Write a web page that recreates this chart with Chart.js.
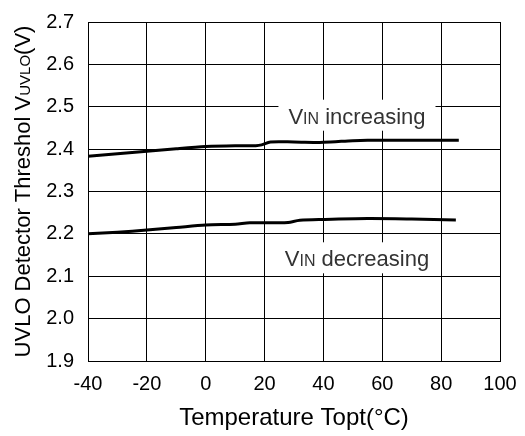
<!DOCTYPE html>
<html>
<head>
<meta charset="utf-8">
<script src="https://cdn.jsdelivr.net/npm/chart.js@4.4.1/dist/chart.umd.min.js"></script>
<style>
  html, body { margin: 0; padding: 0; background: #fff; }
  #wrap { width: 525px; height: 436px; }
</style>
</head>
<body>
<div id="wrap"><canvas id="uvlo-chart"></canvas></div>
<script>
// values
var incTemp = [-40, -30, -20, -10, 0, 10, 17, 19, 22, 30, 40, 50, 55, 70, 86];
var incVolt = [2.383, 2.389, 2.395, 2.401, 2.406, 2.408, 2.408, 2.410, 2.417, 2.417, 2.416, 2.420, 2.421, 2.421, 2.421];

var decTemp = [-40, -30, -20, -10, 0, 10, 15, 25, 28, 32, 40, 55, 70, 85];
var decVolt = [2.200, 2.204, 2.209, 2.215, 2.221, 2.223, 2.226, 2.226, 2.227, 2.232, 2.234, 2.236, 2.235, 2.233];

var xTicks = [-40, -20, 0, 20, 40, 60, 80, 100];
var yTicks = [1.9, 2.0, 2.1, 2.2, 2.3, 2.4, 2.5, 2.6, 2.7];

// curve labels: [main, small caps, rest, temp, volt at baseline]
var curveLabels = [
  ["V", "IN", " increasing", 51.4, 2.46],
  ["V", "IN", " decreasing", 51.4, 2.1235]
];

var FONT = "'Liberation Sans', Arial, sans-serif";

function toPoints(xs, ys) {
  var pts = [];
  for (var i = 0; i < xs.length; i++) pts.push({x: xs[i], y: ys[i]});
  return pts;
}

// text made of pieces with different sizes, left to right
function pieceWidth(ctx, pieces) {
  var w = 0;
  for (var i = 0; i < pieces.length; i++) {
    ctx.font = pieces[i][1] + "px " + FONT;
    w += ctx.measureText(pieces[i][0]).width;
  }
  return w;
}
function drawPieces(ctx, pieces, x, y) {
  for (var i = 0; i < pieces.length; i++) {
    ctx.font = pieces[i][1] + "px " + FONT;
    ctx.fillText(pieces[i][0], x, y);
    x += ctx.measureText(pieces[i][0]).width;
  }
}

var textPlugin = {
  id: "textPlugin",
  afterDatasetsDraw: function(chart) {
    var ctx = chart.ctx;
    var xs = chart.scales.x, ys = chart.scales.y;
    ctx.save();
    ctx.textBaseline = "alphabetic";
    ctx.textAlign = "left";

    // curve labels on white boxes
    for (var i = 0; i < curveLabels.length; i++) {
      var l = curveLabels[i];
      var pieces = [[l[0], 22], [l[1], 16], [l[2], 22]];
      var w = pieceWidth(ctx, pieces);
      var cx = xs.getPixelForValue(l[3]);
      var by = ys.getPixelForValue(l[4]);
      ctx.fillStyle = "#fff";
      ctx.fillRect(cx - w / 2 - 10, by - 24, w + 20, 31);
      ctx.fillStyle = "#333";
      drawPieces(ctx, pieces, cx - w / 2, by);
    }

    // y axis title, rotated
    var yPieces = [["UVLO Detector Threshol V", 22], ["UVLO", 15], ["(V)", 22]];
    var yw = pieceWidth(ctx, yPieces);
    var midY = (chart.chartArea.top + chart.chartArea.bottom) / 2;
    ctx.translate(30, midY);
    ctx.rotate(-Math.PI / 2);
    ctx.fillStyle = "#000";
    drawPieces(ctx, yPieces, -yw / 2, 0);
    ctx.restore();
  }
};

var ctx = document.getElementById("uvlo-chart");

var chart = new Chart(ctx, {
  type: "line",
  data: {
    datasets: [
      {
        label: "VIN increasing",
        data: toPoints(incTemp, incVolt),
        borderColor: "#000",
        borderWidth: 3,
        pointRadius: 0,
        tension: 0.3,
        fill: false
      },
      {
        label: "VIN decreasing",
        data: toPoints(decTemp, decVolt),
        borderColor: "#000",
        borderWidth: 3,
        pointRadius: 0,
        tension: 0.3,
        fill: false
      }
    ]
  },
  options: {
    responsive: true,
    maintainAspectRatio: false,
    animation: false,
    layout: { padding: { top: 22, right: 25, left: 0, bottom: 0 } },
    plugins: {
      legend: { display: false },
      tooltip: { enabled: false }
    },
    scales: {
      x: {
        type: "linear",
        min: -40,
        max: 100,
        afterBuildTicks: function(s) { s.ticks = xTicks.map(function(v) { return {value: v}; }); },
        afterFit: function(s) { s.height = 75; },
        grid: { color: "#000", lineWidth: 1, drawTicks: true, tickLength: 11, tickColor: "rgba(0,0,0,0)" },
        border: { color: "#000", width: 1 },
        ticks: { color: "#000", padding: 0, font: { family: FONT, size: 20 }, maxRotation: 0 },
        title: {
          display: true,
          text: "Temperature Topt(°C)",
          color: "#000",
          font: { family: FONT, size: 24 },
          padding: { top: 0, bottom: 3 }
        }
      },
      y: {
        type: "linear",
        min: 1.9,
        max: 2.7,
        afterBuildTicks: function(s) { s.ticks = yTicks.map(function(v) { return {value: v}; }); },
        afterFit: function(s) { s.width = 88; },
        grid: { color: "#000", lineWidth: 1, drawTicks: true, tickLength: 14, tickColor: "rgba(0,0,0,0)" },
        border: { color: "#000", width: 1 },
        ticks: {
          color: "#000",
          padding: 0,
          font: { family: FONT, size: 20 },
          callback: function(v) { return v.toFixed(1); }
        }
      }
    }
  },
  plugins: [textPlugin]
});
</script>
</body>
</html>
